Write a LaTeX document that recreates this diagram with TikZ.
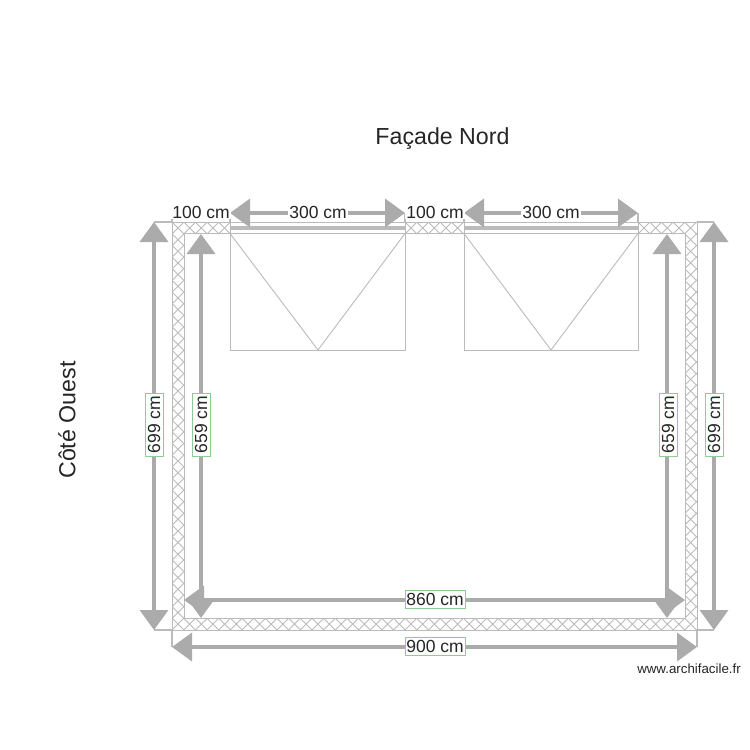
\documentclass[tikz,border=0pt]{standalone}
\usepackage{fontspec}
\setmainfont{Liberation Sans}
\usetikzlibrary{arrows.meta}
\definecolor{dimgrey}{HTML}{ABABAB}
\definecolor{wallgrey}{HTML}{BBBBBB}
\definecolor{boxgreen}{HTML}{8FCC8F}
\tikzset{
    wall/.style={draw=wallgrey,line width=0.9pt},
    hatchline/.style={draw=wallgrey,line width=0.9pt},
    dimline/.style={draw=dimgrey,line width=3.8pt,{Triangle[width=28pt,length=20pt]}-{Triangle[width=28pt,length=20pt]}},
    tick/.style={draw=wallgrey,line width=1.2pt},
    dimtext/.style={font=\fontsize{17.5}{18}\selectfont,text=black!85,inner sep=0pt},
    toplabel/.style={dimtext,fill=white,inner xsep=1pt,inner ysep=1pt},
    dimbox/.style={dimtext,fill=white,draw=boxgreen,line width=1pt,minimum width=60pt,minimum height=18pt},
    bigtext/.style={font=\fontsize{23.2}{24}\selectfont,text=black!85,inner sep=0pt}
}
\begin{document}
\begin{tikzpicture}[x=1pt,y=-1pt]
    \useasboundingbox[fill=white] (0,0) rectangle (750,750);
    \begin{scope}
        \clip (172,222) rectangle (184,630)
              (685,222) rectangle (697,630)
              (172,618) rectangle (697,630)
              (172,222) rectangle (230,234)
              (405,222) rectangle (464,234)
              (638,222) rectangle (697,234);
        \foreach \k in {-45,...,45}
            \draw[hatchline] ({\k*11.65-50+200},200) -- ({\k*11.65-50+650},650);
        \foreach \k in {-2,...,82}
            \draw[hatchline] ({\k*11.65+406-200},200) -- ({\k*11.65+406-650},650);
    \end{scope}
    \draw[wall] (172,222) rectangle (697,630);
    \draw[wall] (184,233.5) rectangle (685,618);
    \draw[wall] (230,233.5) rectangle (405,350);
    \draw[wall] (230,233.5) -- (318,350) -- (405,233.5);
    \draw[wall] (464,233.5) rectangle (638,350);
    \draw[wall] (464,233.5) -- (551,350) -- (638,233.5);
    \draw[wall] (230,222) -- (230,233.5) (405,222) -- (405,233.5);
    \draw[wall] (464,222) -- (464,233.5) (638,222) -- (638,233.5);
    \draw[draw=wallgrey,line width=4pt] (230,227.5) -- (405,227.5);
    \draw[draw=wallgrey,line width=4pt] (464,227.5) -- (638,227.5);
    \coordinate (wallNW) at (172,222);
    \coordinate (wallNE) at (697,222);
    \coordinate (wallSW) at (172,630);
    \coordinate (wallSE) at (697,630);
    \coordinate (outerLtop) at (154,222);
    \coordinate (outerLbot) at (154,630);
    \coordinate (outerRtop) at (714,222);
    \coordinate (outerRbot) at (714,630);
    \coordinate (outerBl) at (172,647);
    \coordinate (outerBr) at (697,647);
    \coordinate (topA) at (172,213);
    \coordinate (winAl) at (230,213);
    \coordinate (winAr) at (405,213);
    \coordinate (winBl) at (464,213);
    \coordinate (winBr) at (638,213);
    \draw[tick] (outerLtop) -- (wallNW) -- (topA);
    \draw[tick] (outerLbot) -- (wallSW) -- (outerBl);
    \draw[tick] (outerRtop) -- (wallNE);
    \draw[tick] (outerRbot) -- (wallSE) -- (outerBr);
    \draw[tick] (winAl) -- (230,222) (winAr) -- (405,222);
    \draw[tick] (winBl) -- (464,222) (winBr) -- (638,222);
    \draw[dimline] (outerLtop) -- (outerLbot);
    \draw[dimline] (outerRtop) -- (outerRbot);
    \draw[dimline] (outerBl) -- (outerBr);
    \draw[dimline] (201,234) -- (201,618);
    \draw[dimline] (667,234) -- (667,618);
    \draw[dimline] (184,600) -- (685,600);
    \draw[dimline] (winAl) -- (winAr);
    \draw[dimline] (winBl) -- (winBr);
    \node[toplabel] (labA) at (201,212) {100 cm};
    \node[toplabel] (labB) at (318,212) {300 cm};
    \node[toplabel] (labC) at (435,212) {100 cm};
    \node[toplabel] (labD) at (551,212) {300 cm};
    \node[dimbox,rotate=90,minimum width=63pt] (labLo) at (154,424.5) {699 cm};
    \node[dimbox,rotate=90,minimum width=63pt] (labLi) at (201,424.5) {659 cm};
    \node[dimbox,rotate=90,minimum width=63pt] (labRi) at (668,424.5) {659 cm};
    \node[dimbox,rotate=90,minimum width=63pt] (labRo) at (714,424.5) {699 cm};
    \node[dimbox] (labBi) at (435,599.5) {860 cm};
    \node[dimbox] (labBo) at (435,646.5) {900 cm};
    \node[bigtext] (north) at (442.5,138.5) {Façade Nord};
    \node[bigtext,rotate=90] (west) at (67,420) {Côté Ouest};
    \node[font=\fontsize{13.3}{14}\selectfont,text=black!85,inner sep=0pt] (site) at (689,669) {www.archifacile.fr};
\end{tikzpicture}
\end{document}
